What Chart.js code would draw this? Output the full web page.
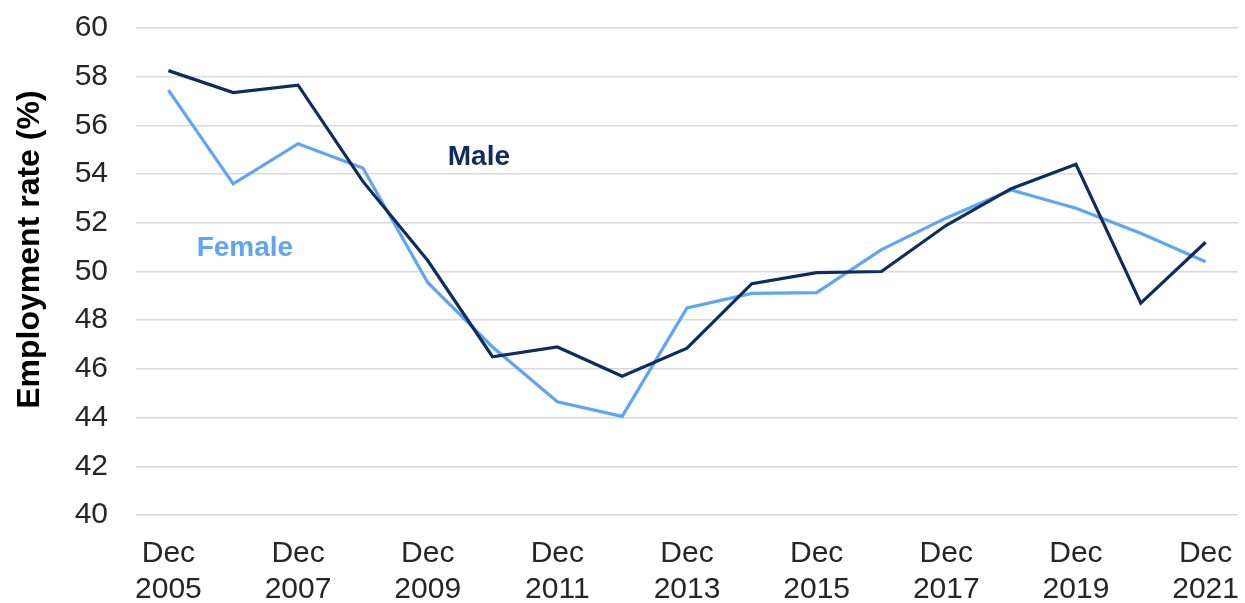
<!DOCTYPE html>
<html>
<head>
<meta charset="utf-8">
<script src="https://cdn.jsdelivr.net/npm/chart.js@4"></script>
<style>
  html, body { margin: 0; padding: 0; background: #ffffff; }
  #wrap { width: 1245px; height: 603px; }
</style>
</head>
<body>
<div id="wrap"><canvas id="c" width="1245" height="603"></canvas></div>
<script>
const categories = ['Dec 2005','Dec 2006','Dec 2007','Dec 2008','Dec 2009','Dec 2010','Dec 2011','Dec 2012','Dec 2013','Dec 2014','Dec 2015','Dec 2016','Dec 2017','Dec 2018','Dec 2019','Dec 2020','Dec 2021'];
const male   = [58.25, 57.35, 57.65, 53.7, 50.45, 46.5, 46.9, 45.7, 46.85, 49.5, 49.95, 50.0, 51.9, 53.4, 54.4, 48.7, 51.2];
const female = [57.45, 53.6, 55.25, 54.25, 49.55, 46.9, 44.65, 44.05, 48.5, 49.1, 49.13, 50.9, 52.2, 53.35, 52.6, 51.57, 50.4];
const yTicks = [40, 42, 44, 46, 48, 50, 52, 54, 56, 58, 60];
const seriesNames = ['Male', 'Female'];
const yTitle = 'Employment rate (%)';

const MALE_COLOR = '#0E2D5E';
const FEMALE_COLOR = '#5EA5F8';
// label anchors in data coordinates (category index, value)
const labelAnchors = [
  { text: seriesNames[0], idx: 4.79, val: 54.7, color: MALE_COLOR },
  { text: seriesNames[1], idx: 1.18, val: 50.97, color: FEMALE_COLOR }
];

const seriesLabels = {
  id: 'seriesLabels',
  afterDatasetsDraw(chart) {
    const ctx = chart.ctx;
    const xs = chart.scales.x, ys = chart.scales.y;
    ctx.save();
    ctx.font = 'bold 28px "Liberation Sans", Arial, sans-serif';
    ctx.textAlign = 'center';
    ctx.textBaseline = 'middle';
    labelAnchors.forEach(l => {
      ctx.fillStyle = l.color;
      ctx.fillText(l.text, xs.getPixelForValue(l.idx), ys.getPixelForValue(l.val));
    });
    // y axis title
    ctx.translate(30, ys.getPixelForValue(50.9));
    ctx.rotate(-Math.PI / 2);
    ctx.fillStyle = '#000000';
    ctx.font = 'bold 32px "Liberation Sans", Arial, sans-serif';
    ctx.fillText(yTitle, 0, 0);
    ctx.restore();
  }
};

new Chart(document.getElementById('c'), {
  type: 'line',
  data: {
    labels: categories,
    datasets: [
      { label: seriesNames[0], data: male, borderColor: MALE_COLOR, borderWidth: 3.2, pointRadius: 0, tension: 0, fill: false },
      { label: seriesNames[1], data: female, borderColor: FEMALE_COLOR, borderWidth: 3.2, pointRadius: 0, tension: 0, fill: false }
    ]
  },
  plugins: [seriesLabels],
  options: {
    responsive: false,
    animation: false,
    devicePixelRatio: 1,
    layout: { padding: { top: 28, right: 7, left: 0, bottom: 0 } },
    plugins: { legend: { display: false }, tooltip: { enabled: false } },
    scales: {
      x: {
        offset: true,
        grid: { display: false, drawTicks: false },
        border: { display: false },
        ticks: {
          autoSkip: false,
          maxRotation: 0,
          minRotation: 0,
          padding: 21,
          color: '#262626',
          font: { family: '"Liberation Sans", Arial, sans-serif', size: 30, lineHeight: 1.2 },
          callback: function(value, index) {
            if (index % 2 !== 0) return '';
            return categories[index].split(' ');
          }
        },
        afterFit(scale) {
          scale.height = 603 - 515;
          scale.paddingLeft = 0; scale.paddingRight = 0;
        }
      },
      y: {
        min: 40,
        max: 60,
        afterBuildTicks(scale) { scale.ticks = yTicks.map(v => ({ value: v })); },
        grid: { color: '#D9D9D9', lineWidth: 1.5, drawTicks: false },
        border: { display: false },
        ticks: {
          padding: 28,
          color: '#262626',
          font: { family: '"Liberation Sans", Arial, sans-serif', size: 30 }
        },
        title: { display: false },
        afterFit(scale) {
          scale.width = 136;
          scale.paddingTop = 0; scale.paddingBottom = 0;
        }
      }
    }
  }
});
</script>
</body>
</html>
